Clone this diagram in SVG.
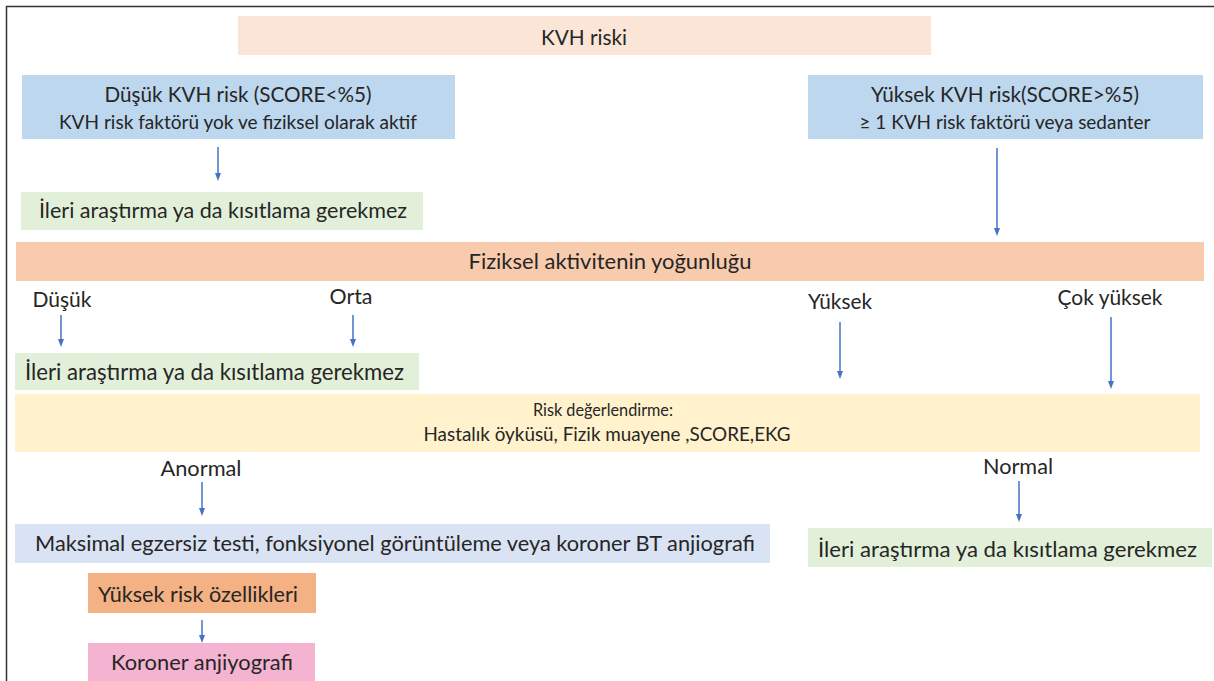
<svg xmlns="http://www.w3.org/2000/svg" width="1214" height="681" viewBox="0 0 1214 681">
<defs>
<marker id="ah" markerWidth="8" markerHeight="8" refX="4" refY="4" orient="auto" markerUnits="userSpaceOnUse">
<path d="M0,1 L8,4 L0,7 z" fill="#4472C4"/>
</marker>
<style>
text{font-family:Lato,"Open Sans","Liberation Sans",sans-serif;fill:#262626;text-anchor:middle}
.c line{stroke:#4472C4;stroke-width:1.5;marker-end:url(#ah)}
.peach{fill:#FBE5D6}.blue{fill:#BDD7EE}.green{fill:#E2F0D9}.orng{fill:#F8CBAD}
.yel{fill:#FFF2CC}.lav{fill:#DAE3F3}.dorng{fill:#F4B183}.pink{fill:#F3B3D1}
.l{text-anchor:start}
</style>
</defs>
<rect width="1214" height="681" fill="#fff"/>
<path d="M6.5,681 V6.5 H1214" fill="none" stroke="#333" stroke-width="1.5"/>

<g id="n-kvh"><rect class="peach" x="238" y="16" width="693" height="39"/><text x="584" y="45" font-size="21" textLength="86" lengthAdjust="spacingAndGlyphs">KVH riski</text></g>
<g id="n-dusuk"><rect class="blue" x="22" y="75" width="433" height="64"/><text x="238" y="102" font-size="20.5" textLength="267" lengthAdjust="spacingAndGlyphs">Düşük KVH risk (SCORE&lt;%5)</text><text x="238" y="129" font-size="18.5" textLength="358" lengthAdjust="spacingAndGlyphs">KVH risk faktörü yok ve fiziksel olarak aktif</text></g>
<g id="n-yuksek"><rect class="blue" x="808" y="75" width="395" height="64"/><text x="1005" y="102" font-size="20.5" textLength="268" lengthAdjust="spacingAndGlyphs">Yüksek KVH risk(SCORE&gt;%5)</text><text x="1005" y="129" font-size="18.5" textLength="291" lengthAdjust="spacingAndGlyphs">≥ 1 KVH risk faktörü veya sedanter</text></g>
<g id="n-ileri1"><rect class="green" x="21" y="192" width="402" height="38"/><text class="l" x="39" y="218" font-size="22" textLength="368" lengthAdjust="spacingAndGlyphs">İleri araştırma ya da kısıtlama gerekmez</text></g>
<g id="n-fiz"><rect class="orng" x="16" y="242" width="1188" height="39"/><text x="610" y="269" font-size="22" textLength="283" lengthAdjust="spacingAndGlyphs">Fiziksel aktivitenin yoğunluğu</text></g>
<g id="lbl"><text x="62" y="307" font-size="21" textLength="59" lengthAdjust="spacingAndGlyphs">Düşük</text><text x="351" y="304" font-size="21" textLength="43" lengthAdjust="spacingAndGlyphs">Orta</text><text x="840" y="309" font-size="21" textLength="64" lengthAdjust="spacingAndGlyphs">Yüksek</text><text x="1110" y="305" font-size="21" textLength="105" lengthAdjust="spacingAndGlyphs">Çok yüksek</text></g>
<g id="n-ileri2"><rect class="green" x="15" y="353" width="404" height="37"/><text class="l" x="25" y="380" font-size="22.4" textLength="379" lengthAdjust="spacingAndGlyphs">İleri araştırma ya da kısıtlama gerekmez</text></g>
<g id="n-risk"><rect class="yel" x="15" y="394" width="1185" height="58"/><text x="603" y="416" font-size="16.4" textLength="140" lengthAdjust="spacingAndGlyphs">Risk değerlendirme:</text><text x="607" y="441" font-size="19" textLength="367" lengthAdjust="spacingAndGlyphs">Hastalık öyküsü, Fizik muayene ,SCORE,EKG</text></g>
<g id="lbl2"><text x="201" y="476" font-size="21" textLength="81" lengthAdjust="spacingAndGlyphs">Anormal</text><text x="1018" y="474" font-size="21" textLength="70" lengthAdjust="spacingAndGlyphs">Normal</text></g>
<g id="n-maks"><rect class="lav" x="15" y="524" width="755" height="39"/><text class="l" x="35" y="551" font-size="22" textLength="720" lengthAdjust="spacingAndGlyphs">Maksimal egzersiz testi, fonksiyonel görüntüleme veya koroner BT anjiografi</text></g>
<g id="n-ileri3"><rect class="green" x="808" y="528" width="404" height="39"/><text class="l" x="818" y="557" font-size="22" textLength="379" lengthAdjust="spacingAndGlyphs">İleri araştırma ya da kısıtlama gerekmez</text></g>
<g id="n-ozel"><rect class="dorng" x="88" y="573" width="228" height="40"/><text x="198" y="602" font-size="22" textLength="200" lengthAdjust="spacingAndGlyphs">Yüksek risk özellikleri</text></g>
<g id="n-koro"><rect class="pink" x="88" y="643" width="227" height="38"/><text x="202" y="670" font-size="22" textLength="182" lengthAdjust="spacingAndGlyphs">Koroner anjiyografi</text></g>

<g class="c" id="connectors">
<line x1="218" y1="147" x2="218" y2="177"/>
<line x1="997" y1="148" x2="997" y2="232"/>
<line x1="61" y1="315" x2="61" y2="343"/>
<line x1="353" y1="315" x2="353" y2="343"/>
<line x1="840" y1="322" x2="840" y2="375"/>
<line x1="1111" y1="317" x2="1111" y2="385"/>
<line x1="202" y1="482" x2="202" y2="512"/>
<line x1="1019" y1="481" x2="1019" y2="518"/>
<line x1="202" y1="620" x2="202" y2="639"/>
</g>
</svg>
